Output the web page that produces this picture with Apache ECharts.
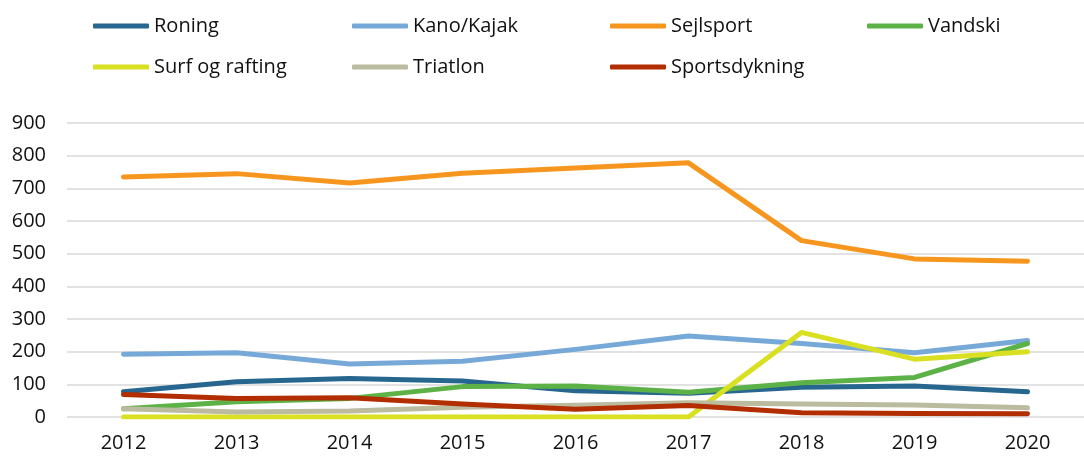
<!DOCTYPE html>
<html>
<head>
<meta charset="utf-8">
<script src="https://cdn.jsdelivr.net/npm/echarts@6/dist/echarts.min.js"></script>
<style>
html, body { margin: 0; padding: 0; background: #fff; }
#chart { width: 1084px; height: 456px; }
</style>
</head>
<body>
<div id="chart"></div>
<script>
// data
var years = ['2012', '2013', '2014', '2015', '2016', '2017', '2018', '2019', '2020'];
var roning        = [77, 108, 118, 110, 80, 73, 91, 95, 77];
var kanoKajak     = [192, 197, 162, 171, 207, 248, 225, 197, 234];
var sejlsport     = [735, 745, 716, 746, 762, 778, 540, 484, 477];
var vandski       = [25, 47, 57, 93, 95, 76, 105, 121, 225];
var surfRafting   = [0, 0, 0, 0, 0, 0, 259, 177, 200];
var triatlon      = [25, 15, 18, 30, 36, 44, 40, 37, 28];
var sportsdykning = [69, 57, 59, 40, 24, 35, 13, 11, 10];

var names  = ['Roning', 'Kano/Kajak', 'Sejlsport', 'Vandski', 'Surf og rafting', 'Triatlon', 'Sportsdykning'];
var values = [roning, kanoKajak, sejlsport, vandski, surfRafting, triatlon, sportsdykning];
var colors = ['#27678f', '#77a9d8', '#f7961e', '#5db247', '#d9df21', '#bbbba0', '#b22d00'];

var font = '"Open Sans", sans-serif';

var myChart = echarts.init(document.getElementById('chart'));

// one vertical legend per column
function legendCol(left, data) {
    return {
        orient: 'vertical',
        left: left,
        top: 16,
        padding: 0,
        itemWidth: 56,
        itemHeight: 5,
        itemGap: 21,
        icon: 'roundRect',
        selectedMode: false,
        textStyle: { fontFamily: font, fontSize: 20, color: '#111', lineHeight: 20 },
        data: data
    };
}

var series = [];
for (var i = 0; i < names.length; i++) {
    series.push({
        name: names[i],
        type: 'line',
        data: values[i],
        symbol: 'none',
        color: colors[i],
        lineStyle: { width: 5, color: colors[i], cap: 'round', join: 'round' }
    });
}

var option = {
    animation: false,
    legend: [
        legendCol(93, ['Roning', 'Surf og rafting']),
        legendCol(352, ['Kano/Kajak', 'Triatlon']),
        legendCol(610, ['Sejlsport', 'Sportsdykning']),
        legendCol(867, ['Vandski'])
    ],
    grid: { left: 67, right: -13, top: 123, bottom: 39 },
    xAxis: {
        type: 'category',
        data: years,
        boundaryGap: true,
        axisLine: { show: false },
        axisTick: { show: false },
        axisLabel: { fontFamily: font, fontSize: 20, color: '#111', margin: 16 }
    },
    yAxis: {
        type: 'value',
        min: 0,
        max: 900,
        interval: 100,
        axisLine: { show: false },
        axisTick: { show: false },
        axisLabel: { fontFamily: font, fontSize: 20, color: '#111', margin: 21 },
        splitLine: { lineStyle: { color: '#d9d9d9', width: 1.5 } }
    },
    series: series
};
myChart.setOption(option);
</script>
</body>
</html>
